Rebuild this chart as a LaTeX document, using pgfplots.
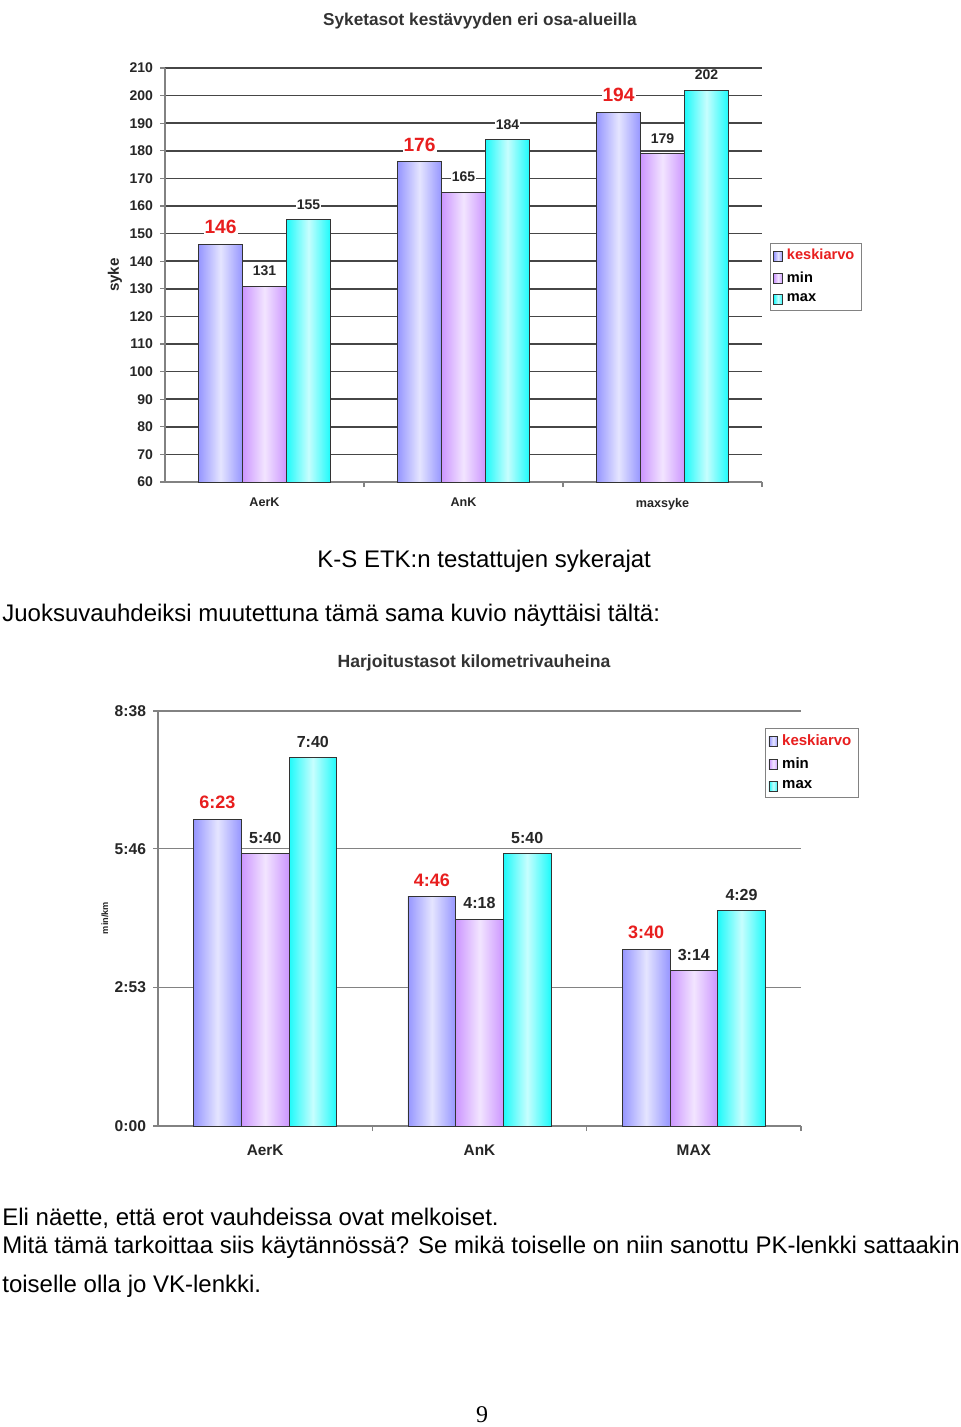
\documentclass[border=0pt]{standalone}
\usepackage{pgfplots}
\pgfplotsset{compat=1.18}
\usepackage{fontspec}
\setmainfont{Liberation Sans}
\newfontfamily\seriffont{Liberation Serif}
\newcommand\cf[1]{\bfseries\fontsize{#1}{#1}\selectfont}
\definecolor{kesk}{RGB}{150,150,255}
\definecolor{minc}{RGB}{204,150,255}
\definecolor{maxc}{RGB}{30,250,250}
\definecolor{redl}{RGB}{232,30,30}
\definecolor{gridd}{RGB}{70,70,70}
\definecolor{axg}{RGB}{130,130,130}
\pgfplotsset{
  sq/.style={/pgfplots/legend image code/.code={\draw[##1] (0pt,-2.5pt) rectangle (4.4pt,2.5pt);}},
  kst/.style={draw=black!80, line width=0.4pt, left color=kesk, right color=kesk, middle color=kesk!25!white, sq},
  mst/.style={draw=black!80, line width=0.4pt, left color=minc, right color=minc, middle color=minc!25!white, sq},
  xst/.style={draw=black!80, line width=0.4pt, left color=maxc, right color=maxc, middle color=maxc!25!white, sq},
  lblred/.style={nodes near coords, every node near coord/.append style={font=\cf{#1}, text=redl, fill=white, inner sep=0.5pt, yshift=4.6pt}},
  lblblk/.style={nodes near coords, every node near coord/.append style={font=\cf{#1}, text=black!85, fill=white, inner sep=0.5pt, yshift=4.4pt}},
}
\begin{document}
\begin{tikzpicture}
\path[use as bounding box] (0,0) rectangle (480pt,-713.5pt);
\fill[white] (0,0) rectangle (480pt,-713.5pt);

% ---------- top chart ----------
\begin{axis}[
  at={(82.5pt,-241pt)}, anchor=south west,
  width=298.5pt, height=207pt, scale only axis,
  xmin=-0.5, xmax=2.5, ymin=60, ymax=210,
  ytick={60,70,...,210},
  xtick={0,1,2}, xticklabels={AerK,AnK,maxsyke},
  minor xtick={0.5,1.5,2.5},
  axis x line*=bottom, axis y line*=left,
  axis line style={axg, line width=0.7pt, -},
  ymajorgrids, grid style={gridd, line width=0.85pt},
  major x tick style={draw=none},
  ytick style={axg, line width=0.6pt},
  minor x tick style={axg, line width=0.6pt},
  tick align=outside, major tick length=2.5pt, minor tick length=2.5pt,
  /pgf/number format/assume math mode=true,
  yticklabel style={font=\cf{7}, text=black!85},
  xticklabel style={font=\cf{6.3}, text=black!85, yshift=-2pt},
  point meta=explicit symbolic,
  ybar=0pt, bar width=0.221, bar shift=0,
  legend style={at={(1.013,0.577)}, anchor=north west, draw=axg, line width=0.6pt,
    font=\cf{7.3}, inner xsep=1.5pt, inner ysep=0.8pt, row sep=0.3pt,
    /tikz/every even column/.append style={column sep=1pt}},
  legend cell align=left,
]
% keskiarvo
\addplot[kst, forget plot, lblred=9.6] coordinates {(-0.221,146)[146]};
\addplot[kst, forget plot, lblred=9.6] coordinates {(0.779,176)[176]};
\addplot[kst, forget plot, lblred=9.6] coordinates {(1.779,194)[194]};
% min
\addplot[mst, forget plot, lblblk=7] coordinates {(0,131)[131]};
\addplot[mst, forget plot, lblblk=7] coordinates {(1,165)[165]};
\addplot[mst, forget plot, lblblk=7] coordinates {(2,179)[179]};
% max
\addplot[xst, forget plot, lblblk=7] coordinates {(0.221,155)[155]};
\addplot[xst, forget plot, lblblk=7] coordinates {(1.221,184)[184]};
\addplot[xst, forget plot, lblblk=7] coordinates {(2.221,202)[202]};
\addlegendimage{kst}\addlegendentry{\textcolor{redl}{keskiarvo}}
\addlegendimage{mst}\addlegendentry{min}
\addlegendimage{xst}\addlegendentry{max}
\end{axis}

% ---------- bottom chart ----------
\begin{axis}[
  at={(79pt,-563pt)}, anchor=south west,
  width=321.5pt, height=207.5pt, scale only axis,
  xmin=-0.5, xmax=2.5, ymin=0, ymax=518,
  ytick={0,173,346,518}, yticklabels={0:00,2:53,5:46,8:38},
  xtick={0,1,2}, xticklabels={AerK,AnK,MAX},
  minor xtick={0.5,1.5,2.5},
  axis x line*=bottom, axis y line*=left,
  axis line style={axg, line width=0.6pt, -},
  ymajorgrids, grid style={axg, line width=0.6pt},
  major x tick style={draw=none},
  ytick style={axg, line width=0.6pt},
  minor x tick style={axg, line width=0.6pt},
  tick align=outside, major tick length=2.5pt, minor tick length=2.5pt,
  yticklabel style={font=\cf{7.8}, text=black!85},
  xticklabel style={font=\cf{7.7}, text=black!85, yshift=-3.5pt},
  point meta=explicit symbolic,
  ybar=0pt, bar width=0.2225, bar shift=0,
  legend style={at={(0.944,0.959)}, anchor=north west, draw=axg, line width=0.6pt,
    font=\cf{7.5}, inner xsep=1.5pt, inner ysep=1pt, row sep=0.6pt,
    /tikz/every even column/.append style={column sep=1pt}},
  legend cell align=left,
]
% keskiarvo (seconds per km)
\addplot[kst, forget plot, lblred=9] coordinates {(-0.2225,383)[6:23]};
\addplot[kst, forget plot, lblred=9] coordinates {(0.7775,286)[4:46]};
\addplot[kst, forget plot, lblred=9] coordinates {(1.7775,220)[3:40]};
% min
\addplot[mst, forget plot, lblblk=8] coordinates {(0,340)[5:40]};
\addplot[mst, forget plot, lblblk=8] coordinates {(1,258)[4:18]};
\addplot[mst, forget plot, lblblk=8] coordinates {(2,194)[3:14]};
% max
\addplot[xst, forget plot, lblblk=8] coordinates {(0.2225,460)[7:40]};
\addplot[xst, forget plot, lblblk=8] coordinates {(1.2225,340)[5:40]};
\addplot[xst, forget plot, lblblk=8] coordinates {(2.2225,269)[4:29]};
\addlegendimage{kst}\addlegendentry{\textcolor{redl}{keskiarvo}}
\addlegendimage{mst}\addlegendentry{min}
\addlegendimage{xst}\addlegendentry{max}
\end{axis}

% ---------- texts ----------
\begin{scope}[x=0.5pt, y=-0.5pt]
\node[font=\cf{8.6}, text=black!80] at (480,21) {Syketasot kestävyyden eri osa-alueilla};
\node[font=\cf{7.6}, text=black!85, rotate=90] at (115,275) {syke};
\node[font=\cf{8.8}, text=black!80] at (474,663) {Harjoitustasot kilometrivauheina};
\node[font=\cf{4.6}, text=black!85, rotate=90] at (105,918) {min/km};
\node[font=\fontsize{12}{14}\selectfont, anchor=base west, inner sep=0pt] at (317,567) {K-S ETK:n testattujen sykerajat};
\node[font=\fontsize{12}{14}\selectfont, anchor=base west, inner sep=0pt] at (2,621) {Juoksuvauhdeiksi muutettuna tämä sama kuvio näyttäisi tältä:};
\node[font=\fontsize{12}{14}\selectfont, anchor=base west, inner sep=0pt] at (2,1225) {Eli näette, että erot vauhdeissa ovat melkoiset.};
\node[font=\fontsize{12}{14}\selectfont, anchor=base west, inner sep=0pt] at (2,1253) {Mitä tämä tarkoittaa siis käytännössä? Se mikä toiselle on niin sanottu PK-lenkki sattaakin};
\node[font=\fontsize{12}{14}\selectfont, anchor=base west, inner sep=0pt] at (2,1292) {toiselle olla jo VK-lenkki.};
\node[font=\seriffont\fontsize{12}{14}\selectfont, anchor=base, inner sep=0pt] at (482,1422) {9};
\end{scope}
\end{tikzpicture}
\end{document}
